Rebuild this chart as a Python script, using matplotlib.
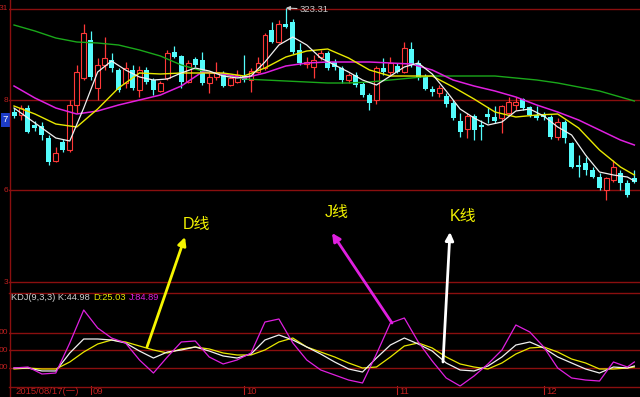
import numpy as np
import matplotlib.pyplot as plt
from matplotlib.lines import Line2D
from matplotlib.patches import FancyArrowPatch

# daily candles, index 0 = 2015/08/17
opens = [219, 216, 223, 206, 205, 193, 170, 189, 181, 226,
         253, 291, 243, 266, 271, 261, 248, 261, 241, 261,
         251, 240, 253, 279, 275, 249, 272, 271, 248, 254,
         258, 246, 249, 255, 251, 259, 263, 301, 289, 307,
         309, 281, 267, 264, 274, 278, 269, 263, 251, 256,
         247, 236, 231, 263, 259, 265, 259, 282, 268, 254,
         242, 238, 235, 228, 210, 202, 215, 206, 217, 214,
         213, 218, 226, 232, 224, 216, 216, 214, 194, 209,
         188, 166, 168, 161, 154, 141, 151, 158, 148, 153]
closes = [215, 223, 199, 203, 196, 169, 178, 181, 226, 259,
          298, 254, 266, 273, 263, 241, 263, 243, 261, 249,
          241, 248, 278, 274, 249, 268, 266, 248, 254, 259,
          245, 253, 256, 251, 260, 268, 296, 289, 307, 304,
          279, 268, 269, 271, 278, 263, 264, 251, 256, 246,
          236, 228, 263, 259, 268, 259, 283, 266, 253, 242,
          239, 243, 227, 213, 199, 215, 201, 204, 214, 210,
          225, 229, 229, 223, 216, 213, 214, 194, 209, 193,
          164, 164, 161, 154, 143, 153, 164, 148, 136, 149]
highs = [223, 226, 226, 210, 209, 196, 184, 192, 231, 266,
         307, 300, 273, 294, 278, 263, 269, 266, 265, 264,
         253, 250, 281, 285, 276, 271, 274, 279, 258, 269,
         260, 256, 261, 276, 263, 274, 298, 309, 311, 323,
         312, 288, 274, 276, 281, 280, 272, 265, 258, 259,
         249, 238, 265, 273, 274, 268, 289, 289, 271, 257,
         245, 246, 238, 231, 218, 218, 217, 211, 224, 225,
         226, 234, 234, 233, 225, 225, 219, 216, 213, 211,
         189, 176, 174, 164, 158, 154, 171, 161, 151, 161]
lows = [213, 211, 198, 200, 191, 166, 169, 179, 179, 218,
        251, 251, 231, 261, 259, 239, 243, 241, 234, 247,
        236, 239, 251, 273, 243, 248, 264, 246, 238, 251,
        244, 245, 248, 249, 239, 258, 261, 288, 288, 303,
        277, 266, 263, 253, 271, 261, 261, 248, 248, 244,
        234, 221, 227, 256, 256, 258, 258, 264, 251, 241,
        235, 234, 224, 211, 194, 193, 191, 191, 208, 208,
        198, 216, 221, 221, 214, 211, 211, 192, 191, 188,
        163, 154, 156, 153, 141, 131, 149, 141, 134, 148]

# moving averages, read every 3rd candle (MA5 every 2nd)
ma_idx3 = list(range(0, 88, 3)) + [89]
ma60 = [306, 300, 293, 289, 288, 286, 281, 275, 266, 260, 257, 252, 251, 250, 249, 248,
        248, 249, 251, 253, 255, 255, 255, 255, 253, 251, 248, 244, 240, 234, 230]
ma20 = [245, 233, 223, 217, 220, 226, 231, 236, 245, 259, 257, 253, 258, 265, 268, 269,
        269, 269, 268, 267, 261, 251, 245, 240, 234, 226, 219, 211, 201, 191, 186]
ma10 = [225, 217, 207, 204, 222, 243, 258, 257, 258, 258, 258, 255, 263, 274, 280, 282,
        273, 261, 255, 255, 255, 244, 232, 219, 214, 216, 217, 203, 181, 164, 156]
ma_idx2 = list(range(0, 89, 2)) + [89]
ma5 = [223, 213, 203, 193, 190, 223, 259, 270, 261, 254, 251, 252, 258, 263, 260, 255,
       253, 255, 269, 286, 294, 286, 273, 266, 259, 251, 246, 255, 264, 268, 257, 240,
       222, 213, 206, 209, 220, 222, 215, 204, 196, 176, 159, 156, 154, 150]

# KDJ(9,3,3), every 2nd candle
k_vals = [20, 20, 14.9, 14.9, 45.7, 69.7, 69.7, 68, 62.9, 49.1, 37.1, 47.4, 50.9, 56, 49.1,
          40.6, 37.1, 44, 68, 76.6, 68, 56, 44, 30.3, 18.3, 13.1, 37.1, 59.4, 71.4, 61.1,
          49.1, 28.6, 16.6, 14.9, 23.4, 38.9, 59.4, 64.6, 54.3, 38.9, 28.6, 18.3, 11.4,
          21.7, 20, 23.4]
d_vals = [18.3, 20, 18.3, 18.3, 30.3, 47.4, 61.1, 68, 64.6, 57.7, 50.9, 45.7, 52.6, 56,
          52.6, 45.7, 42.3, 42.3, 50.9, 64.6, 71.4, 56, 47.4, 38.9, 28.6, 20, 21.7, 38.9,
          57.7, 62.9, 54.3, 38.9, 26.9, 21.7, 18.3, 28.6, 44, 54.3, 56, 47.4, 35.4, 28.6,
          18.3, 18.3, 20, 21.7]
j_vals = [20, 21.7, 9.7, 11.4, 62.9, 119.4, 88.6, 71.4, 62.9, 33.7, 11.4, 38.9, 64.6,
          66.3, 38.9, 26.9, 33.7, 45.7, 98.8, 104, 62.9, 33.7, 16.6, 8, -0.6, -5.7, 44,
          97.1, 105.7, 64.6, 32, 2.9, -10.9, 6.3, 26.9, 50.9, 93.7, 81.7, 56, 20, 2.9,
          -0.6, -2.3, 30.3, 21.7, 30.3]

price_grid = [322, 231, 141, 49]
price_grid_labels = ["31", "8", "6", "3"]   # only the visible tail of each label
kdj_grid = [80, 50, 20]
kdj_grid_labels = ["00", "00", "00"]
month_idx = [11, 33, 55, 76]
month_labels = ["09", "10", "11", "12"]
first_date = "2015/08/17(一)"
max_label = "323.31"

W, H = 640, 397
RED = '#ff3838'
CYAN = '#54fcfc'
GRID = '#8a0f0f'
TXT_RED = '#c02020'
FONT = ['Liberation Sans', 'Noto Sans CJK SC']


def fpx(x, y):
    return x / W, 1 - y / H


fig = plt.figure(figsize=(6.4, 3.97), dpi=100, facecolor='black')
ax = fig.add_axes([9 / W, (H - 287) / H, (W - 9) / W, 287 / H])
kx = fig.add_axes([9 / W, (H - 387) / H, (W - 9) / W, 94 / H])
for a in (ax, kx):
    a.set_facecolor('black')
    a.set_xlim(-0.72, 89.81)
    a.set_xticks([])
    a.set_yticks([])
    for s in a.spines.values():
        s.set_visible(False)
ax.set_ylim(44, 331)
kx.set_ylim(-12.57, 148.55)
for s in ('top', 'bottom'):
    kx.spines[s].set_visible(True)
    kx.spines[s].set_color(GRID)
    kx.spines[s].set_linewidth(1)

for p, lab in zip(price_grid, price_grid_labels):
    ax.axhline(p, color=GRID, lw=1, zorder=0)
    ax.text(-0.85, p, lab, ha='right', va='center', color=TXT_RED, fontsize=6,
            family=FONT, clip_on=False)
for v, lab in zip(kdj_grid, kdj_grid_labels):
    kx.axhline(v, color=GRID, lw=1, zorder=0)
    kx.text(-0.85, v, lab, ha='right', va='center', color=TXT_RED, fontsize=6,
            family=FONT, clip_on=False)
fig.add_artist(Line2D([9.5 / W, 9.5 / W], [0, 1], transform=fig.transFigure, color=GRID, lw=1))

# candles
idx = np.arange(len(opens))
o, c, h, l = (np.array(v, dtype=float) for v in (opens, closes, highs, lows))
up = c >= o
ax.vlines(idx[up], l[up], h[up], color=RED, lw=0.9, zorder=2)
ax.vlines(idx[~up], l[~up], h[~up], color=CYAN, lw=0.9, zorder=2)
ax.bar(idx[up], (c - o)[up], bottom=o[up], width=0.7, facecolor='black',
       edgecolor=RED, lw=0.8, zorder=3)
ax.bar(idx[~up], (o - c)[~up], bottom=c[~up], width=0.72, color=CYAN, lw=0, zorder=3)

ax.plot(ma_idx3, ma60, color='#1aa81a', lw=1, zorder=4)
ax.plot(ma_idx3, ma20, color='#e020e0', lw=1.1, zorder=4)
ax.plot(ma_idx3, ma10, color='#e8e800', lw=1, zorder=4)
ax.plot(ma_idx2, ma5, color='#f0f0f0', lw=0.9, zorder=5)

imax = int(np.argmax(h))
ax.annotate(max_label, xy=(imax, h[imax]), xytext=(10, -1), textcoords='offset points',
            ha='left', va='center', color='#c8c8c8', fontsize=6.8, family=FONT,
            arrowprops=dict(arrowstyle='-|>', color='#c8c8c8', lw=0.8,
                            mutation_scale=6, shrinkA=0, shrinkB=0))

ax.text(-0.85, 211, "7", ha='right', va='center', color='white', fontsize=6.8,
        family=FONT, clip_on=False,
        bbox=dict(facecolor='#1c3cc8', edgecolor='none', pad=1.5))

# KDJ lines
kx.plot(ma_idx2, d_vals, color='#e8e800', lw=0.9)
kx.plot(ma_idx2, k_vals, color='#f0f0f0', lw=0.9)
kx.plot(ma_idx2, j_vals, color='#e020e0', lw=0.9)

fig.text(*fpx(11, 298), "KDJ(9,3,3) K:44.98", color='#d0d0d0', fontsize=6.7,
         family=FONT, va='center')
fig.text(*fpx(93, 298), "D:25.03", color='#e8e800', fontsize=6.7, family=FONT, va='center')
fig.text(*fpx(129, 298), "J:84.89", color='#e020e0', fontsize=6.7, family=FONT, va='center')

# date axis
fig.text(*fpx(15, 392), first_date, color=TXT_RED, fontsize=6.8, family=FONT, va='center')
xt = kx.get_xaxis_transform()
for m, lab in zip(month_idx, month_labels):
    kx.plot([m, m], [0.01, -0.075], transform=xt, clip_on=False, color=TXT_RED, lw=0.8)
    kx.text(m + 0.3, -0.05, lab, transform=xt, ha='left', va='center', color=TXT_RED,
            fontsize=6.8, family=FONT, clip_on=False)

# annotations
notes = [("D线", (196, 224), (147, 347), (185, 237), '#f5f500'),
         ("J线", (337, 213), (392, 323), (332, 233), '#e020e0'),
         ("K线", (463, 217), (443, 362), (450, 232), '#ffffff')]
for txt, pos, tail, head, col in notes:
    fig.text(*fpx(*pos), txt, color='#f0f000', fontsize=11.5, family=FONT,
             ha='center', va='center')
    fig.add_artist(FancyArrowPatch(fpx(*tail), fpx(*head), transform=fig.transFigure,
                                   arrowstyle='-|>', mutation_scale=12, lw=2,
                                   color=col, shrinkA=0, shrinkB=0))

fig.savefig('out.png', dpi=100, facecolor='black')
